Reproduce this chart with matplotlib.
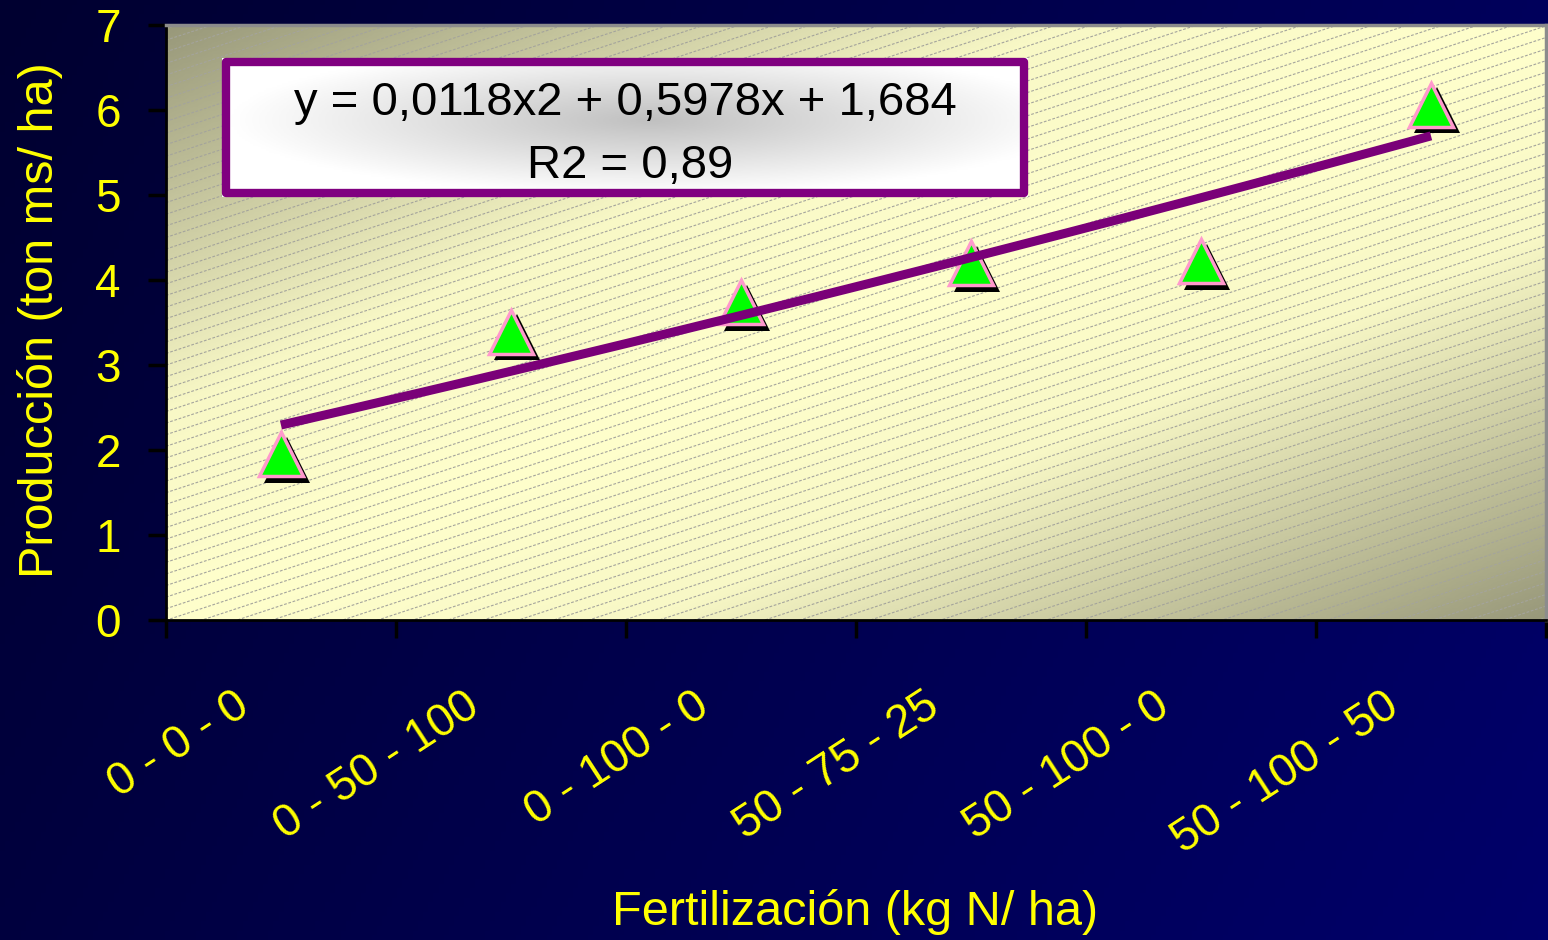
import numpy as np
import matplotlib.pyplot as plt
import matplotlib.transforms as mtransforms
from matplotlib.collections import LineCollection
from matplotlib.colors import LinearSegmentedColormap
from matplotlib.patches import Rectangle

plt.rcParams['font.family'] = ['Liberation Sans', 'DejaVu Sans']

# Data -----------------------------------------------------------
tratamientos = ['0 - 0 - 0', '0 - 50 - 100', '0 - 100 - 0',
                '50 - 75 - 25', '50 - 100 - 0', '50 - 100 - 50']
produccion = [1.95, 3.39, 3.74, 4.20, 4.22, 6.06]   # ton ms/ha
coef = [0.0118, 0.5978, 1.684]   # polynomial trend line (Excel)
r2 = 0.89
yticks = [0, 1, 2, 3, 4, 5, 6, 7]
# ----------------------------------------------------------------

x = np.arange(1, len(tratamientos) + 1)
xs = np.linspace(x[0], x[-1], 80)
ys = np.polyval(coef, xs)

fig = plt.figure(figsize=(15.48, 9.40), dpi=100)

# dark blue slide background
bg = fig.add_axes([0, 0, 1, 1], zorder=-10)
bg.axis('off')
gx, gy = np.meshgrid(np.linspace(0, 1, 300), np.linspace(0, 1, 200))
bg.imshow(0.75 * gx + 0.25 * gy, aspect='auto', extent=[0, 1, 0, 1], origin='upper',
          cmap=LinearSegmentedColormap.from_list('bg', ['#000030', '#00006a']))

ax = fig.add_axes([0.1072, 0.3404, 0.8915, 0.633])

# plot area: beige gradient + thin dashed diagonal hatching
u, v = np.meshgrid(np.linspace(0, 1, 300), np.linspace(0, 1, 200))
pa_cmap = LinearSegmentedColormap.from_list(
    'pa', [(0, '#ffffcc'), (0.35, '#f8f8c6'), (1, '#98987a')])
ax.imshow(np.abs(u - v), cmap=pa_cmap, aspect='auto', extent=[0, 1, 0, 1],
          origin='lower', transform=ax.transAxes, zorder=0)

k = 0.765
segs = [[(0, v0), (1, v0 + k)] for v0 in np.arange(-0.8, 1.0, 0.0195)]
hatch = LineCollection(segs, colors='#a4a49c', linewidths=0.8,
                       linestyles=(0, (2.5, 1.5)), transform=ax.transAxes, zorder=1)
ax.add_collection(hatch)

# markers with drop shadow
shadow = ax.transData + mtransforms.ScaledTranslation(0.06, -0.055, fig.dpi_scale_trans)
ax.plot(x, produccion, '^', ms=33, color='black', mew=0, transform=shadow, zorder=4)
ax.plot(x, produccion, '^', ms=32, mfc='#00ff00', mec='#ff99cc', mew=2.5, zorder=5)

# trend line (drawn over the markers)
ax.plot(xs, ys, color='#7a0078', lw=6.5, zorder=6, solid_capstyle='butt')

# equation box
bx0, bx1, by0, by1 = 0.0406, 0.6246, 0.711, 0.9445
px, py = np.meshgrid(np.linspace(222, 1028, 300), np.linspace(58, 197, 80))
rr = np.sqrt(((px - 650) / 420) ** 2 + ((py - 120) / 75) ** 2)
ax.imshow(np.clip(rr, 0, 1), cmap=LinearSegmentedColormap.from_list('box', ['#c0c0c0', '#ffffff']),
          aspect='auto', extent=[bx0, bx1, by0, by1], origin='upper',
          transform=ax.transAxes, zorder=7, vmin=0, vmax=1)
ax.add_patch(Rectangle((0.0435, 0.7176), 0.6217 - 0.0435, 0.9378 - 0.7176,
                       transform=ax.transAxes, fill=False, ec='#800080', lw=6,
                       joinstyle='round', zorder=8))

eq = 'y = %sx2 + %sx + %s' % tuple(str(c).replace('.', ',') for c in coef)
ax.text(0.333, 0.869, eq, transform=ax.transAxes, ha='center', va='center',
        fontsize=34, color='black', zorder=9)
ax.text(0.336, 0.763, 'R2 = ' + str(r2).replace('.', ','), transform=ax.transAxes,
        ha='center', va='center', fontsize=34, color='black', zorder=9)

ax.set_xlim(0.5, len(tratamientos) + 0.5)
ax.set_ylim(0, 7)

# axes / ticks
for s in ['left', 'bottom']:
    ax.spines[s].set_color('black')
    ax.spines[s].set_linewidth(2)
for s in ['top', 'right']:
    ax.spines[s].set_color('#8c8c8c')
    ax.spines[s].set_linewidth(2.5)

ax.set_xticks(np.arange(0.5, len(tratamientos) + 1, 1))
ax.set_xticklabels([])
ax.tick_params(axis='x', which='major', length=13, width=2.5, color='black')
ax.set_xticks(x, tratamientos, minor=True)
ax.tick_params(axis='x', which='minor', length=0, pad=46, labelsize=33, labelcolor='yellow')
off = mtransforms.ScaledTranslation(-0.48, 0, fig.dpi_scale_trans)
for lab in ax.get_xticklabels(minor=True):
    lab.set_rotation(33)
    lab.set_ha('right')
    lab.set_va('top')
    lab.set_rotation_mode('anchor')
    lab.set_transform(lab.get_transform() + off)

ax.set_yticks(yticks)
ax.tick_params(axis='y', length=13, width=2.5, color='black', labelsize=33,
               labelcolor='yellow', pad=19.5)

fig.text(40 / 1548, 1 - 320 / 940, 'Producción (ton ms/ ha)', rotation=90,
         ha='center', va='center', color='yellow', fontsize=35)
fig.text(855 / 1548, 1 - 912 / 940, 'Fertilización (kg N/ ha)',
         ha='center', va='center', color='yellow', fontsize=35)

fig.savefig('out.png', dpi=100)
